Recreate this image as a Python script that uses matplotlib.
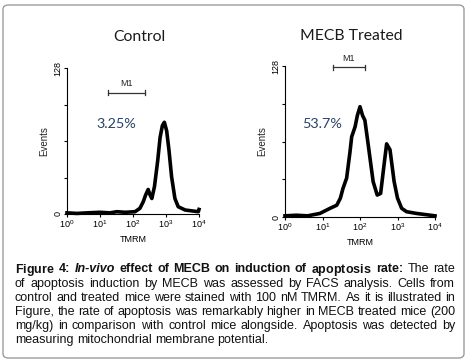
import matplotlib
matplotlib.use('Agg')
import matplotlib.pyplot as plt
from matplotlib.patches import FancyBboxPatch
from matplotlib.ticker import FixedLocator, FixedFormatter, NullLocator

plt.rcParams['font.family'] = ['Liberation Sans', 'DejaVu Sans']
plt.rcParams['mathtext.fontset'] = 'custom'
plt.rcParams['mathtext.rm'] = 'Liberation Sans'
plt.rcParams['mathtext.bf'] = 'Liberation Sans:bold'

# histogram outlines (TMRM intensity, events)
ctrl_tmrm = [1, 2, 4, 10, 20, 32, 58, 115, 162, 204, 240, 288, 331, 372, 447, 562,
             661, 776, 891, 1047, 1230, 1479, 1862, 2344, 3802, 9550, 10000]
ctrl_events = [1, 0.5, 1, 1.5, 1, 2, 1.5, 2, 5, 10.7, 16.5, 21.5, 16.5, 13.6, 24, 47,
               67, 77.5, 80.4, 73, 56, 32.5, 13.6, 6.4, 3.5, 2, 4]

mecb_tmrm = [1, 2, 4, 8.5, 16, 24, 30, 35, 44, 54, 60, 74, 85, 100, 117, 135, 166,
             224, 288, 355, 437, 513, 631, 813, 1000, 1288, 1738, 3236, 10000]
mecb_events = [1, 1.5, 1, 3, 7.4, 10, 16, 24, 33, 55, 68, 76.5, 86, 93.5, 86, 82, 61,
               30, 18.6, 20, 44, 62, 57, 30, 16, 7.4, 4.5, 3, 1]

titles = ['Control', 'MECB Treated']
percents = ['3.25%', '53.7%']
m1_ranges = [(17.8, 230), (19, 134)]
m1_heights = [106.5, 127]

decades = [1, 10, 100, 1000, 10000]
decade_labels = [r'$\mathregular{10^{%d}}$' % i for i in range(5)]
y_ticks = [0, 32, 64, 96, 128]
y_labels = ['0', '', '', '', '128']

caption = [
    "Figure 4: In-vivo effect of MECB on induction of apoptosis rate: The rate",
    "of apoptosis induction by MECB was assessed by FACS analysis. Cells from",
    "control and treated mice were stained with 100 nM TMRM. As it is illustrated in",
    "Figure, the rate of apoptosis was remarkably higher in MECB treated mice (200",
    "mg/kg) in comparison with control mice alongside. Apoptosis was detected by",
    "measuring mitochondrial membrane potential.",
]

W, H = 468, 364
fig = plt.figure(figsize=(W / 100, H / 100), dpi=100)
fig.patch.set_facecolor('white')

box = FancyBboxPatch((3 / W, 6 / H), 461 / W, 353 / H,
                     boxstyle='round,pad=0,rounding_size=0.012',
                     transform=fig.transFigure, fill=False, ec='#9c9c9c', lw=1)
fig.patches.append(box)

ax1 = fig.add_axes([67 / W, 150 / H, 132 / W, 146 / H])
ax2 = fig.add_axes([285 / W, 147 / H, 150 / W, 151 / H])

data = [(ctrl_tmrm, ctrl_events), (mecb_tmrm, mecb_events)]
for i, ax in enumerate([ax1, ax2]):
    xs, ys = data[i]
    ax.plot(xs, ys, color='black', lw=2.6, clip_on=False)
    ax.set_xscale('log')
    ax.set_xlim(1, 10000)
    ax.set_ylim(0, 128)
    ax.spines['top'].set_visible(False)
    ax.spines['right'].set_visible(False)
    ax.spines['left'].set_linewidth(0.8)
    ax.spines['bottom'].set_linewidth(0.8)
    ax.xaxis.set_major_locator(FixedLocator(decades))
    ax.xaxis.set_major_formatter(FixedFormatter(decade_labels))
    ax.xaxis.set_minor_locator(NullLocator())
    ax.set_yticks(y_ticks)
    ax.set_yticklabels(y_labels, rotation=90, va='center')
    ax.tick_params(axis='x', length=2, width=0.8, pad=1, labelsize=6.5)
    ax.tick_params(axis='y', length=2, width=0.8, pad=1.5, labelsize=6.5)
    ax.set_xlabel('TMRM', fontsize=6.5, labelpad=4)
    ax.set_ylabel('Events', fontsize=7, labelpad=3, color='#222222')

    # M1 marker bar
    x0, x1 = m1_ranges[i]
    yb = m1_heights[i]
    ax.plot([x0, x1], [yb, yb], color='#333333', lw=0.9, clip_on=False)
    ax.plot([x0, x0], [yb - 2, yb + 2], color='#333333', lw=0.9, clip_on=False)
    ax.plot([x1, x1], [yb - 2, yb + 2], color='#333333', lw=0.9, clip_on=False)
    ax.text((x0 * x1) ** 0.5, yb + 7.5, 'M1', fontsize=6.5, ha='center', va='center',
            color='#222222', clip_on=False)

    ax.text(31 if i == 0 else 10, 79, percents[i], fontsize=10.4, ha='center', va='center',
            color='#2a4266', family='Lato')

fig.text(139 / W, 1 - 37 / H, titles[0], fontsize=11.3, ha='center', va='center',
         family='Lato', color='#1a1a1a')
fig.text(351 / W, 1 - 36 / H, titles[1], fontsize=11.3, ha='center', va='center',
         family='Lato', color='#1a1a1a')

# caption, justified line by line (words placed on a common baseline)
# bold words with descenders go through mathtext, plain bold text shifts them down
renderer = fig.canvas.get_renderer()
left, right = 15, 455
for n, line in enumerate(caption):
    words = line.split(' ')
    y = 1 - (272.5 + n * 14.05) / H
    items = []
    for k, w in enumerate(words):
        bold = n == 0 and k < 11
        style = 'italic' if (n == 0 and k == 2) else 'normal'
        s = w
        if bold and any(c in w for c in 'gjpqy'):
            s = r'$\mathbf{%s}$' % w
        t = fig.text(0, y, s, fontsize=9, weight='bold' if bold else 'normal',
                     style=style, family='Liberation Sans', ha='left',
                     va='baseline', color='#111111')
        items.append(t)
    widths = [t.get_window_extent(renderer).width for t in items]
    if n < len(caption) - 1:
        gap = (right - left - sum(widths)) / (len(words) - 1)
    else:
        gap = 3.3
    x = left
    for t, wd in zip(items, widths):
        t.set_x(x / W)
        x += wd + gap

fig.savefig('out.png', dpi=100)
